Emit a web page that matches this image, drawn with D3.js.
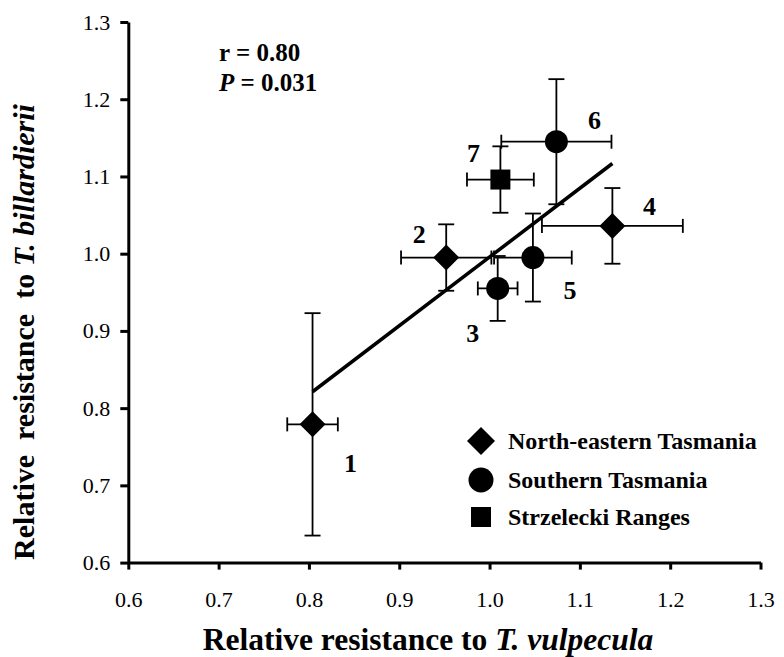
<!DOCTYPE html>
<html>
<head>
<meta charset="utf-8">
<script src="https://cdn.jsdelivr.net/npm/d3@7"></script>
<style>
  body { margin: 0; background: #fff; }
  svg { display: block; font-family: "Liberation Serif", "Times New Roman", serif; }
</style>
</head>
<body>
<svg id="chart"></svg>
<script>
// populations, numbered as on the plot
var popIds = [1, 2, 3, 4, 5, 6, 7];
var popRegion = [0, 0, 1, 0, 1, 1, 2];
var regionNames = ["North-eastern Tasmania", "Southern Tasmania", "Strzelecki Ranges"];

// relative resistance to T. vulpecula (x) and T. billardierii (y), with error
var vulpecula = [0.804, 0.952, 1.009, 1.136, 1.048, 1.074, 1.012];
var vulpErr = [0.028, 0.050, 0.022, 0.078, 0.043, 0.061, 0.037];
var billardierii = [0.779, 0.995, 0.955, 1.036, 0.995, 1.145, 1.096];
var billErr = [0.144, 0.043, 0.042, 0.049, 0.057, 0.081, 0.043];

var tickVals = [0.6, 0.7, 0.8, 0.9, 1.0, 1.1, 1.2, 1.3];

var width = 784, height = 657;

var svg = d3.select("#chart")
  .attr("width", width)
  .attr("height", height);

var x = d3.scaleLinear().domain([0.6, 1.3]).range([128.3, 760.5]);
var y = d3.scaleLinear().domain([0.6, 1.3]).range([562.6, 22]);

var data = popIds.map(function(id, i) {
  return { id: id, region: popRegion[i], x: vulpecula[i], xe: vulpErr[i], y: billardierii[i], ye: billErr[i] };
});

// axes
var xAxis = svg.append("g")
  .attr("transform", "translate(0," + y(0.6) + ")")
  .call(d3.axisBottom(x).tickValues(tickVals).tickFormat(d3.format(".1f"))
    .tickSize(7).tickSizeOuter(0).tickPadding(22));

var yAxis = svg.append("g")
  .attr("transform", "translate(" + x(0.6) + ",0)")
  .call(d3.axisLeft(y).tickValues(tickVals).tickFormat(d3.format(".1f"))
    .tickSize(8).tickSizeOuter(0).tickPadding(10));

[xAxis, yAxis].forEach(function(ax) {
  ax.select(".domain").attr("stroke", "#000").attr("stroke-width", 3);
  ax.selectAll(".tick line").attr("stroke", "#000").attr("stroke-width", 3);
  ax.selectAll(".tick text")
    .attr("fill", "#000")
    .style("font-family", "Liberation Serif")
    .style("font-size", "22px");
});

// error bars
var capV = 8, capH = 7;
var err = svg.append("g").attr("stroke", "#000").attr("stroke-width", 1.8);

data.forEach(function(d) {
  var cx = x(d.x), cy = y(d.y);
  var x0 = x(d.x - d.xe), x1 = x(d.x + d.xe);
  var y0 = y(d.y - d.ye), y1 = y(d.y + d.ye);
  err.append("line").attr("x1", x0).attr("x2", x1).attr("y1", cy).attr("y2", cy);
  err.append("line").attr("x1", x0).attr("x2", x0).attr("y1", cy - capH).attr("y2", cy + capH);
  err.append("line").attr("x1", x1).attr("x2", x1).attr("y1", cy - capH).attr("y2", cy + capH);
  err.append("line").attr("x1", cx).attr("x2", cx).attr("y1", y0).attr("y2", y1);
  err.append("line").attr("x1", cx - capV).attr("x2", cx + capV).attr("y1", y0).attr("y2", y0);
  err.append("line").attr("x1", cx - capV).attr("x2", cx + capV).attr("y1", y1).attr("y2", y1);
});

// least squares line over the range of x
var mx = d3.mean(vulpecula), my = d3.mean(billardierii);
var sxy = d3.sum(vulpecula, function(v, i) { return (v - mx) * (billardierii[i] - my); });
var sxx = d3.sum(vulpecula, function(v) { return (v - mx) * (v - mx); });
var slope = sxy / sxx, icpt = my - slope * mx;
var xr = d3.extent(vulpecula);

svg.append("line")
  .attr("x1", x(xr[0])).attr("y1", y(icpt + slope * xr[0]))
  .attr("x2", x(xr[1])).attr("y2", y(icpt + slope * xr[1]))
  .attr("stroke", "#000")
  .attr("stroke-width", 3.5);

// markers
var shapes = [
  { type: d3.symbolSquare, size: 338, rot: 45 },
  { type: d3.symbolCircle, size: 415, rot: 0 },
  { type: d3.symbolSquare, size: 400, rot: 0 }
];

svg.append("g").selectAll("path")
  .data(data)
  .enter()
  .append("path")
  .attr("d", function(d) { return d3.symbol().type(shapes[d.region].type).size(shapes[d.region].size)(); })
  .attr("transform", function(d) {
    return "translate(" + x(d.x) + "," + y(d.y) + ") rotate(" + shapes[d.region].rot + ")";
  })
  .attr("fill", "#000");

// population numbers (offsets from the marker)
var labelOffset = { 1: [38, 48], 2: [-27, -15], 3: [-25, 54], 4: [37, -11], 5: [37, 41], 6: [38, -13], 7: [-27, -18] };

svg.append("g").selectAll("text")
  .data(data)
  .enter()
  .append("text")
  .attr("x", function(d) { return x(d.x) + labelOffset[d.id][0]; })
  .attr("y", function(d) { return y(d.y) + labelOffset[d.id][1]; })
  .attr("text-anchor", "middle")
  .style("font-weight", "bold")
  .style("font-size", "26px")
  .text(function(d) { return d.id; });

// stats
svg.append("text")
  .attr("x", 219).attr("y", 61)
  .style("font-weight", "bold").style("font-size", "25px")
  .text("r = 0.80");
var ptxt = svg.append("text")
  .attr("x", 219).attr("y", 91)
  .style("font-weight", "bold").style("font-size", "25px");
ptxt.append("tspan").style("font-style", "italic").text("P");
ptxt.append("tspan").text(" = 0.031");

// legend
var legend = svg.append("g");
var legendShapes = [
  { type: d3.symbolSquare, size: 392, rot: 45 },
  { type: d3.symbolCircle, size: 491, rot: 0 },
  { type: d3.symbolSquare, size: 400, rot: 0 }
];
var legendY = [441, 480, 517];

regionNames.forEach(function(name, i) {
  legend.append("path")
    .attr("d", d3.symbol().type(legendShapes[i].type).size(legendShapes[i].size)())
    .attr("transform", "translate(481," + legendY[i] + ") rotate(" + legendShapes[i].rot + ")")
    .attr("fill", "#000");
  legend.append("text")
    .attr("x", 508).attr("y", legendY[i] + 7.5)
    .style("font-weight", "bold").style("font-size", "24px")
    .text(name);
});

// axis titles
var xt = svg.append("text")
  .attr("x", 428).attr("y", 650)
  .attr("text-anchor", "middle")
  .style("font-weight", "bold").style("font-size", "31.5px");
xt.append("tspan").text("Relative resistance to ");
xt.append("tspan").style("font-style", "italic").text("T. vulpecula");

var yt = svg.append("text")
  .attr("transform", "translate(34,332) rotate(-90)")
  .attr("text-anchor", "middle")
  .style("font-weight", "bold").style("font-size", "30px")
  .style("white-space", "pre");
yt.append("tspan").text("Relative  resistance  to ");
yt.append("tspan").style("font-style", "italic").text("T. billardierii");
</script>
</body>
</html>
